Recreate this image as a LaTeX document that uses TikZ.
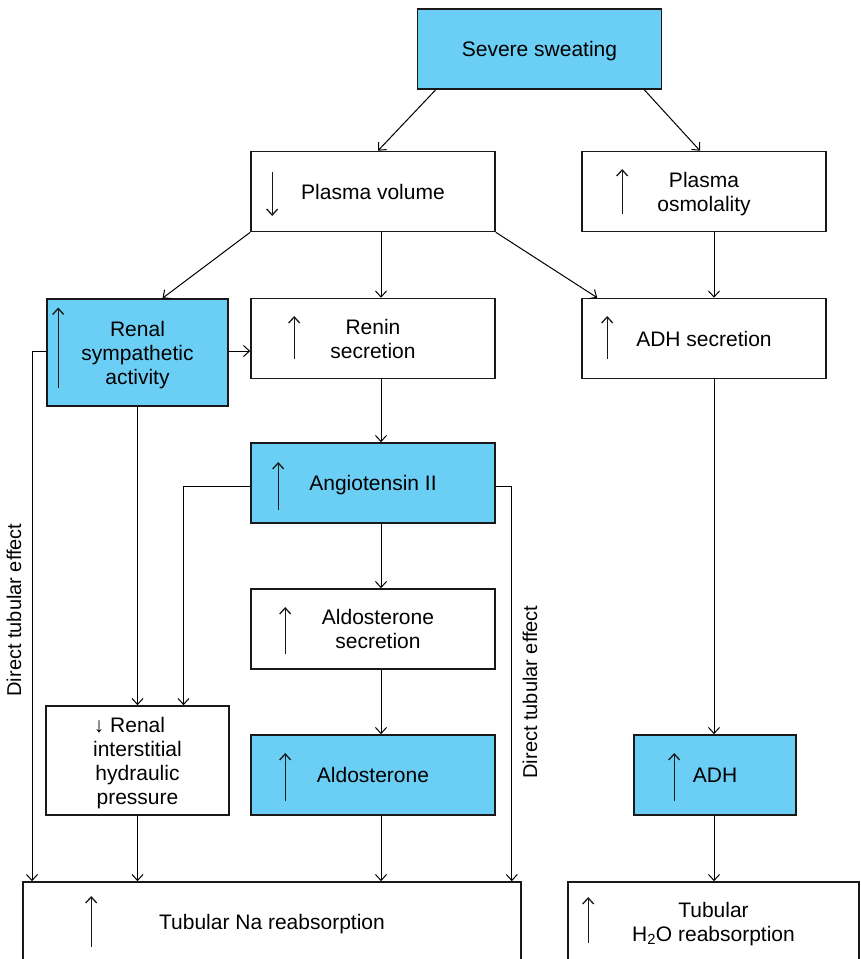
\documentclass[tikz,border=0pt]{standalone}
\usepackage{fontspec}
\setmainfont{Liberation Sans}
\usetikzlibrary{arrows.meta,calc}
\definecolor{skyfill}{RGB}{107,207,245}
\definecolor{edge}{RGB}{25,25,25}
\tikzset{
    box/.style = {draw = edge, line width = 1.6pt, inner sep = 0pt, align = center,
                  minimum width = 244pt, minimum height = 80pt, text depth = 0pt,
                  font = \fontsize{21}{24}\selectfont},
    bluebox/.style = {box, fill = skyfill},
    conn/.style = {-{Straight Barb[length=6pt,width=11pt]}, line width = 1pt},
    rise/.style = {-{Straight Barb[length=6pt,width=11pt]}, line width = 1.3pt, edge},
    sidelabel/.style = {rotate = 90, font = \fontsize{20}{24}\selectfont}
}
\begin{document}
\begin{tikzpicture}[x = 1pt, y = -1pt]
    \useasboundingbox (0,0) rectangle (860,959);
    \clip (0,0) rectangle (860,959);
    \coordinate (leftcol) at (32,0);
    \coordinate (midcol) at (381,0);
    \coordinate (rightcol) at (714,0);

    \node[bluebox] (sweat) at (539.5,49) {Severe sweating};
    \node[box] (plasma) at (373,191.5) {Plasma volume};
    \node[box] (osmol) at (704,191.5) {Plasma\\osmolality};
    \node[bluebox, minimum width = 181pt, minimum height = 107pt] (rsa) at (137.5,352.5) {Renal\\sympathetic\\activity};
    \node[box] (renin) at (373,338.5) {Renin\\secretion};
    \node[box] (adhsec) at (704,338.5) {ADH secretion};
    \node[bluebox] (ang) at (373,483) {Angiotensin II};
    \node[box] (aldosec) at (373,629) {\hspace*{10pt}Aldosterone\\\hspace*{10pt}secretion};
    \node[box, minimum width = 183pt, minimum height = 109pt] (rihp) at (137.5,760.5) {↓ Renal\hspace*{16pt}\\interstitial\\hydraulic\\pressure};
    \node[bluebox] (aldo) at (373,775) {Aldosterone};
    \node[bluebox, minimum width = 162pt] (adh) at (715,775) {ADH};
    \node[box, minimum width = 498pt] (tna) at (272,922) {Tubular Na reabsorption};
    \node[box, minimum width = 291pt] (th2o) at (713.5,922) {Tubular\\H\textsubscript{2}O reabsorption};
    \node[sidelabel] (dteL) at (14,610) {Direct tubular effect};
    \node[sidelabel] (dteR) at (530,692) {Direct tubular effect};

    % arrows inside the boxes
    \draw[rise] ($(plasma.west)+(22,-19.5)$) -- ($(plasma.west)+(22,24.5)$);
    \draw[rise] ($(osmol.west)+(41,22.5)$) -- ($(osmol.west)+(41,-22.5)$);
    \draw[rise] ($(rsa.west)+(12,35)$) -- ($(rsa.west)+(12,-45)$);
    \draw[rise] ($(renin.west)+(44,20.5)$) -- ($(renin.west)+(44,-22.5)$);
    \draw[rise] ($(adhsec.west)+(26,20.5)$) -- ($(adhsec.west)+(26,-22.5)$);
    \draw[rise] ($(ang.west)+(28,27)$) -- ($(ang.west)+(28,-21)$);
    \draw[rise] ($(aldosec.west)+(35,25)$) -- ($(aldosec.west)+(35,-22)$);
    \draw[rise] ($(aldo.west)+(35,26)$) -- ($(aldo.west)+(35,-22)$);
    \draw[rise] ($(adh.west)+(41,26)$) -- ($(adh.west)+(41,-22)$);
    \draw[rise] ($(tna.west)+(69,25)$) -- ($(tna.west)+(69,-26)$);
    \draw[rise] ($(th2o.west)+(21,21)$) -- ($(th2o.west)+(21,-25)$);

    % connectors
    \draw[conn] ([xshift=19pt]sweat.south west) -- ([xshift=5pt]plasma.north);
    \draw[conn] ([xshift=-18pt]sweat.south east) -- ([xshift=-4pt]osmol.north);
    \draw[conn] (plasma.south west) -- ([xshift=25pt]rsa.north);
    \draw[conn] (plasma.south -| midcol) -- (renin.north -| midcol);
    \draw[conn] (plasma.south east) -- ([xshift=16pt]adhsec.north west);
    \draw[conn] (osmol.south -| rightcol) -- (adhsec.north -| rightcol);
    \draw[conn] ([yshift=1.5pt]rsa.east) -- ([yshift=1.5pt]rsa.east -| renin.west);
    \draw[conn] ([yshift=1.5pt]rsa.west) -| (leftcol |- tna.north);
    \draw[conn] (rsa.south) -- (rihp.north);
    \draw[conn] (renin.south -| midcol) -- (ang.north -| midcol);
    \draw[conn] ([yshift=-3pt]ang.west) -| ([xshift=46pt]rihp.north);
    \draw[conn] ([yshift=-3pt]ang.east) -| ([xshift=-10pt]tna.north east);
    \draw[conn] (ang.south -| midcol) -- (aldosec.north -| midcol);
    \draw[conn] (aldosec.south -| midcol) -- (aldo.north -| midcol);
    \draw[conn] (aldo.south -| midcol) -- (tna.north -| midcol);
    \draw[conn] (rihp.south) -- (rihp.south |- tna.north);
    \draw[conn] (adhsec.south -| rightcol) -- (adh.north -| rightcol);
    \draw[conn] (adh.south -| rightcol) -- (th2o.north -| rightcol);
\end{tikzpicture}
\end{document}
